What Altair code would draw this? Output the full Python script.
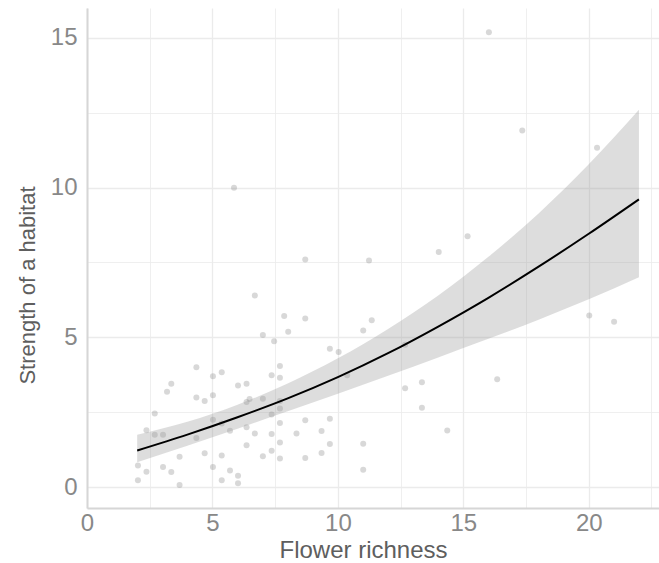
import altair as alt
import pandas as pd

# Scatter points (Flower richness, Strength of a habitat)
pt_x = [5.86, 4.36, 5.02, 5.37, 3.36, 3.19, 4.36, 4.69, 5.02, 6.02, 2.70, 2.37, 2.70, 3.03,
        4.36, 5.02, 5.37, 5.70, 4.69, 3.69, 5.37, 2.03, 3.03, 5.02, 2.37, 3.36, 2.03, 5.70,
        5.37, 3.69, 6.02, 6.02,
        8.70, 6.69, 7.86, 8.70, 8.02, 7.01, 7.46, 9.68, 10.03, 7.69, 7.36, 7.69, 6.36, 6.36,
        6.48, 7.01, 7.69, 7.69, 7.36, 8.70, 9.68, 7.69, 6.36, 9.35, 6.69, 7.36, 8.35, 7.69,
        9.68, 6.36, 7.36, 9.35, 7.01, 7.69, 8.70, 10.37,
        11.24, 14.02, 15.17, 11.01, 11.35, 12.68, 13.35, 12.68, 13.35, 14.36, 11.01, 11.01,
        16.02, 17.35, 20.33, 20.02, 21.01, 16.35]
pt_y = [10.00, 4.00, 3.70, 3.83, 3.45, 3.18, 2.99, 2.87, 3.07, 3.39, 2.46, 1.90, 1.75, 1.75,
        1.64, 2.25, 2.12, 1.88, 1.13, 1.01, 1.05, 0.72, 0.67, 0.67, 0.51, 0.50, 0.23, 0.55,
        0.23, 0.07, 0.38, 0.13,
        7.60, 6.40, 5.71, 5.63, 5.19, 5.08, 4.87, 4.62, 4.51, 4.04, 3.73, 3.65, 3.45, 2.84,
        2.94, 2.95, 2.87, 2.62, 2.42, 2.23, 2.28, 2.14, 2.00, 1.87, 1.79, 1.77, 1.79, 1.49,
        1.44, 1.40, 1.21, 1.14, 1.03, 0.95, 0.97, 3.73,
        7.57, 7.85, 8.38, 5.23, 5.57, 4.75, 3.50, 3.30, 2.65, 1.89, 1.45, 0.58,
        15.19, 11.91, 11.33, 5.73, 5.52, 3.60]

# Fitted curve with confidence band
fit_x = [2, 4, 6, 8, 10, 12, 14, 16, 18, 20, 22]
fit_y = [1.22, 1.75, 2.33, 2.96, 3.67, 4.47, 5.36, 6.32, 7.36, 8.46, 9.61]
fit_lo = [0.83, 1.38, 1.95, 2.53, 3.12, 3.72, 4.33, 4.95, 5.59, 6.27, 7.01]
fit_hi = [1.75, 2.18, 2.75, 3.46, 4.30, 5.28, 6.40, 7.69, 9.14, 10.78, 12.60]

x_ticks = [0, 2.5, 5, 7.5, 10, 12.5, 15, 17.5, 20, 22.5]
y_ticks = [0, 2.5, 5, 7.5, 10, 12.5, 15]

pts = pd.DataFrame({"x": pt_x, "y": pt_y})
fit = pd.DataFrame({"x": fit_x, "y": fit_y, "lo": fit_lo, "hi": fit_hi})

FONT = "Liberation Sans"
grid_w = {"condition": {"test": "datum.value % 5 === 0", "value": 1.3}, "value": 0.8}

x_scale = alt.Scale(domain=[0, 22.8], nice=False, zero=False)
y_scale = alt.Scale(domain=[-0.7, 16], nice=False, zero=False)

x_axis = alt.Axis(
    values=x_ticks, labelExpr="datum.value % 5 === 0 ? datum.label : ''",
    grid=True, gridColor="#ebebeb", gridWidth=grid_w, ticks=False,
    domainColor="#d6d6d6", domainWidth=2, labelFlush=False,
    labelFont=FONT, labelFontSize=24, labelColor="#888888", labelPadding=3,
    title="Flower richness", titleFont=FONT, titleFontSize=24, titleFontWeight="normal",
    titleColor="#5e5e5e", titleBaseline="alphabetic", titleY=49, titleX=276,
)
y_axis = alt.Axis(
    values=y_ticks, labelExpr="datum.value % 5 === 0 ? datum.label : ''",
    grid=True, gridColor="#ebebeb", gridWidth=grid_w, ticks=False,
    domainColor="#d6d6d6", domainWidth=2, labelFlush=False,
    labelFont=FONT, labelFontSize=24, labelColor="#888888", labelPadding=10,
    title="Strength of a habitat", titleFont=FONT, titleFontSize=22, titleFontWeight="normal",
    titleColor="#5e5e5e", titleBaseline="alphabetic", titleX=-53, titleY=277,
)

points = alt.Chart(pts).mark_circle(size=36, color="#7f7f7f", opacity=0.3).encode(
    x=alt.X("x:Q", scale=x_scale, axis=x_axis),
    y=alt.Y("y:Q", scale=y_scale, axis=y_axis),
)
band = alt.Chart(fit).mark_area(color="#999999", opacity=0.33, interpolate="monotone").encode(
    x=alt.X("x:Q", scale=x_scale),
    y=alt.Y("lo:Q", scale=y_scale),
    y2="hi:Q",
)
line = alt.Chart(fit).mark_line(color="black", strokeWidth=2, interpolate="monotone").encode(
    x=alt.X("x:Q", scale=x_scale),
    y=alt.Y("y:Q", scale=y_scale),
)

chart = alt.layer(points, band, line).properties(
    width=572, height=500,
    padding={"left": 87, "top": 8, "right": 0, "bottom": 55},
    autosize=alt.AutoSizeParams(type="none"),
    background="white",
).configure_view(stroke=None)

chart.save("out.html", embed_options={"renderer": "svg", "actions": False})
